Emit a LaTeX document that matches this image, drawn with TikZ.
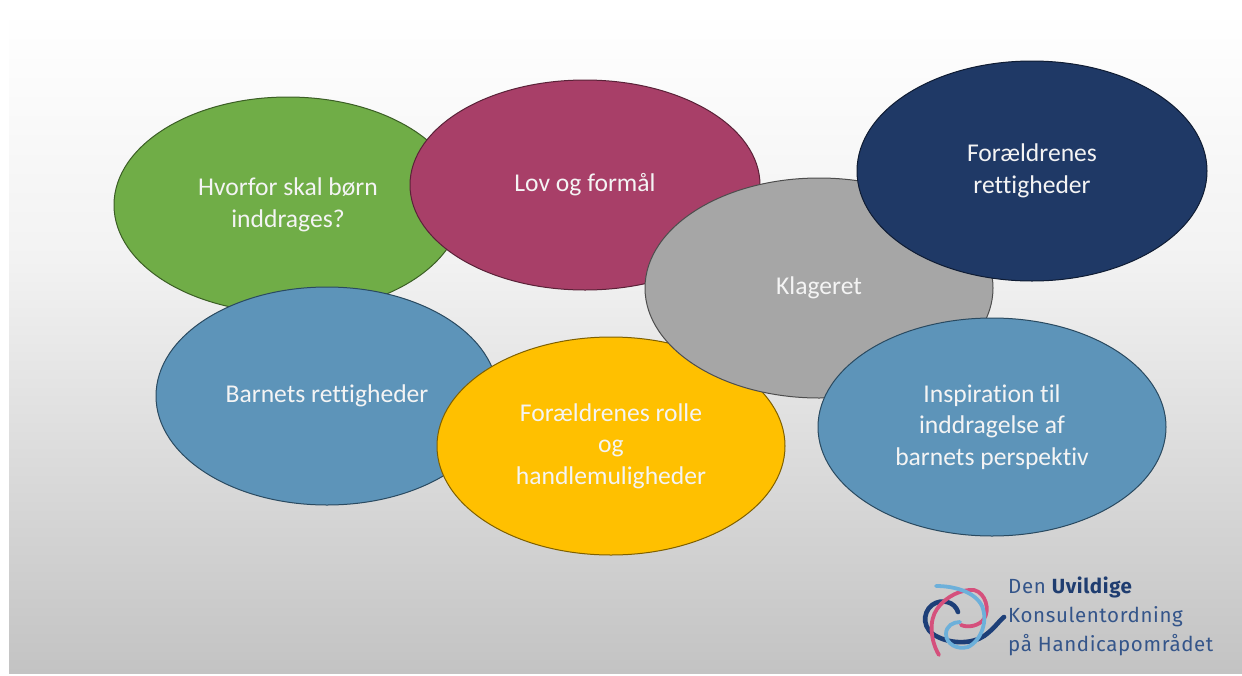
\documentclass[tikz,border=0pt]{standalone}
\usepackage{fontspec}
\setmainfont[Ligatures=CommonOff]{Carlito}
\newfontfamily\logofont[LetterSpace=3]{Fira Sans}
\usetikzlibrary{shapes.geometric}
\definecolor{cgreen}{HTML}{70AD47}
\definecolor{cgreenD}{HTML}{3B5E25}
\definecolor{cmag}{HTML}{A83F68}
\definecolor{cmagD}{HTML}{5A2238}
\definecolor{cblue}{HTML}{5D94B9}
\definecolor{cblueD}{HTML}{2A4A60}
\definecolor{cyel}{HTML}{FFC000}
\definecolor{cyelD}{HTML}{7F6000}
\definecolor{cgray}{HTML}{A6A6A6}
\definecolor{cgrayD}{HTML}{4D4D4D}
\definecolor{cnavy}{HTML}{1F3966}
\definecolor{cnavyD}{HTML}{0F1C33}
\definecolor{ctxt}{HTML}{F4F4F4}
\definecolor{bgmid}{HTML}{F2F2F2}
\definecolor{bgbot}{HTML}{C3C3C3}
\definecolor{logotxt}{HTML}{34558A}
\definecolor{logobold}{HTML}{1F3D70}
\definecolor{lgblue}{HTML}{6DB0DA}
\definecolor{lgpink}{HTML}{D5507C}
\definecolor{lgnavy}{HTML}{1D3F78}
\tikzset{
  blob/.style={ellipse, draw, line width=1pt, text=ctxt, align=center, inner sep=0pt,
    font=\fontsize{25.6}{31.5}\selectfont},
  logoline/.style={anchor=base west, inner sep=0pt, text=logotxt, font=\logofont\fontsize{20.5}{24}\selectfont},
  swirl/.style={line width=3.8pt, line cap=round}
}
\begin{document}
\begin{tikzpicture}[x=1pt,y=-1pt]
\useasboundingbox (0,0) rectangle (1242,675);
\fill[white] (0,0) rectangle (1242,675);
\shade[top color=white, bottom color=bgmid] (9,10) rectangle (1242,260);
\shade[top color=bgmid, bottom color=bgbot] (9,259.5) rectangle (1242,673);

\node[blob, fill=cgreen, draw=cgreenD, minimum width=348pt, minimum height=216pt] (hvorfor) at (288,205) {Hvorfor skal børn\\inddrages?};
\node[blob, fill=cmag, draw=cmagD, minimum width=350pt, minimum height=210pt] (lov) at (585,185) {Lov og formål};
\node[blob, fill=cblue, draw=cblueD, minimum width=342pt, minimum height=218pt] (barn) at (327,396) {Barnets rettigheder};
\node[blob, fill=cyel, draw=cyelD, minimum width=348pt, minimum height=218pt] (rolle) at (611,446) {Forældrenes rolle\\og\\handlemuligheder};
\node[blob, fill=cgray, draw=cgrayD, minimum width=348pt, minimum height=220pt] (klage) at (819,288) {Klageret};
\node[blob, fill=cnavy, draw=cnavyD, minimum width=350pt, minimum height=220pt] (foraeld) at (1032,171) {Forældrenes\\rettigheder};
\node[blob, fill=cblue, draw=cblueD, minimum width=348pt, minimum height=218pt] (insp) at (992,427) {Inspiration til\\inddragelse af\\barnets perspektiv};

% logo swirl
\draw[swirl, lgnavy, line width=4.6pt] (958,612) .. controls (955,602) and (942,598) .. (932,605)
  .. controls (922,613) and (922,630) .. (938,637)
  .. controls (952,644) and (972,644) .. (984,636)
  .. controls (994,629) and (999,621) .. (1004,617);
\draw[swirl, lgpink] (939,655) .. controls (930,640) and (929,620) .. (937,609)
  .. controls (946,596) and (962,589) .. (974,590)
  .. controls (986,593) and (990,610) .. (984,619)
  .. controls (979,626) and (968,628) .. (961,625);
\draw[swirl, lgblue] (936,586) .. controls (955,586) and (975,592) .. (982,606)
  .. controls (988,620) and (982,640) .. (968,647)
  .. controls (957,650) and (946,644) .. (946,634)
  .. controls (946,626) and (953,622) .. (960,622);

\node[logoline] (logo1) at (1008,593) {Den {\bfseries\color{logobold}Uvildige}};
\node[logoline] (logo2) at (1008,622) {Konsulentordning};
\node[logoline] (logo3) at (1008,651) {på Handicapområdet};
\end{tikzpicture}
\end{document}
